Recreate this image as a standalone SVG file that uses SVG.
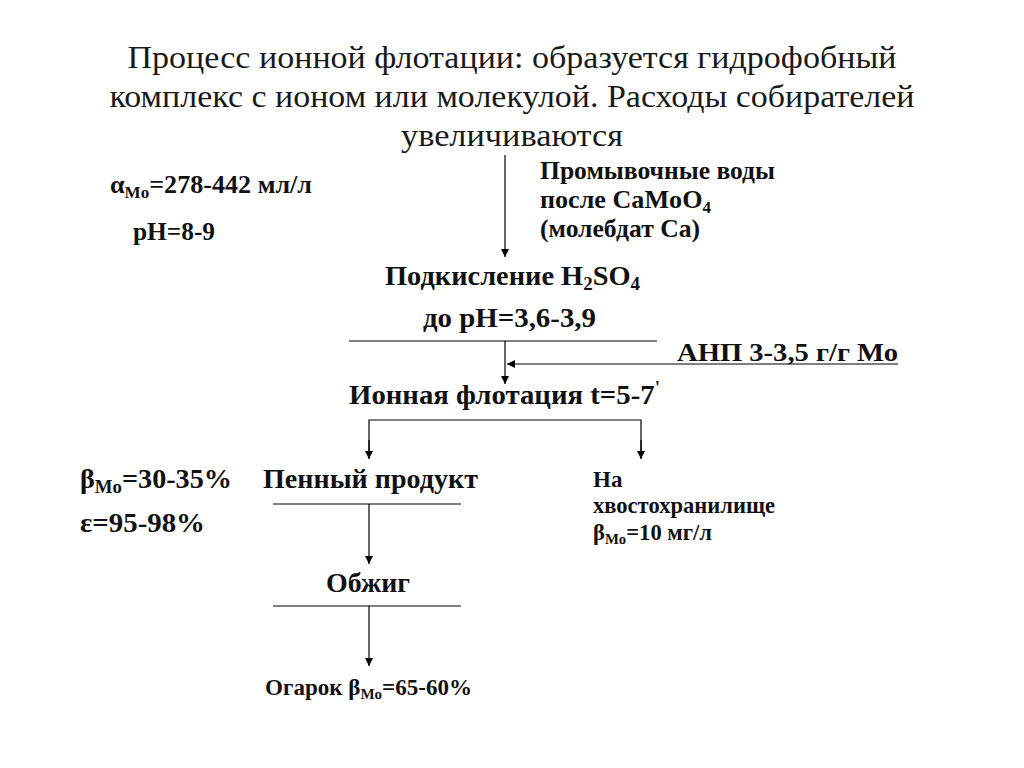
<svg xmlns="http://www.w3.org/2000/svg" width="1024" height="768" viewBox="0 0 1024 768">
<defs>
<marker id="ah" viewBox="0 0 10 10" refX="10" refY="5" markerWidth="8" markerHeight="9" markerUnits="userSpaceOnUse" orient="auto"><path d="M0,0 L10,5 L0,10 z" fill="#000"/></marker>
<style>
.t{font-family:"Liberation Serif","Times New Roman",serif;font-size:31px;fill:#1a1a1a;text-anchor:middle}
.b{font-family:"Liberation Serif","Times New Roman",serif;font-weight:bold;fill:#111}
.s28{font-size:27px}.s26{font-size:26px}.s27{font-size:27px}.s23{font-size:23px}
.ln{stroke:#000;stroke-width:1.2;fill:none}
.ar{stroke:#000;stroke-width:1.2;fill:none;marker-end:url(#ah)}
</style>
</defs>
<rect width="1024" height="768" fill="#fff"/>
<g id="title">
<text class="t" x="512" y="68" textLength="769" lengthAdjust="spacingAndGlyphs">Процесс ионной флотации: образуется гидрофобный</text>
<text class="t" x="512" y="107" textLength="805" lengthAdjust="spacingAndGlyphs">комплекс с ионом или молекулой. Расходы собирателей</text>
<text class="t" x="512" y="146" textLength="222" lengthAdjust="spacingAndGlyphs">увеличиваются</text>
</g>
<g id="params1">
<text class="b s26" x="110" y="193" textLength="202" lengthAdjust="spacingAndGlyphs">α<tspan font-size="17" dy="5">Mo</tspan><tspan dy="-5">=278-442 мл/л</tspan></text>
<text class="b s26" x="133" y="240" textLength="82" lengthAdjust="spacingAndGlyphs">pH=8-9</text>
</g>
<g id="feed">
<text class="b s26" x="540" y="179" textLength="235" lengthAdjust="spacingAndGlyphs">Промывочные воды</text>
<text class="b s26" x="540" y="208" textLength="171" lengthAdjust="spacingAndGlyphs">после CaMoO<tspan font-size="17" dy="5">4</tspan></text>
<text class="b s26" x="540" y="237" textLength="160" lengthAdjust="spacingAndGlyphs">(молебдат Ca)</text>
</g>
<g id="acid">
<text class="b s28" x="385" y="285" textLength="255" lengthAdjust="spacingAndGlyphs">Подкисление  H<tspan font-size="18" dy="5">2</tspan><tspan dy="-5">SO</tspan><tspan font-size="18" dy="5">4</tspan></text>
<text class="b s28" x="423" y="327" textLength="173" lengthAdjust="spacingAndGlyphs">до pH=3,6-3,9</text>
</g>
<g id="anp">
<text class="b" font-size="26" x="677" y="361" textLength="221" lengthAdjust="spacingAndGlyphs">АНП 3-3,5 г/г Мо</text>
</g>
<g id="flot">
<text class="b s28" x="349" y="404" textLength="311" lengthAdjust="spacingAndGlyphs">Ионная флотация t=5-7<tspan font-size="18" dy="-10">'</tspan></text>
</g>
<g id="foam">
<text class="b s28" x="263" y="488" textLength="215" lengthAdjust="spacingAndGlyphs">Пенный продукт</text>
</g>
<g id="params2">
<text class="b" font-size="27" x="80" y="488" textLength="152" lengthAdjust="spacingAndGlyphs">β<tspan font-size="18" dy="5">Mo</tspan><tspan dy="-5">=30-35%</tspan></text>
<text class="b" font-size="27" x="80" y="532" textLength="125" lengthAdjust="spacingAndGlyphs">ε=95-98%</text>
</g>
<g id="tails">
<text class="b s23" x="593" y="487">На</text>
<text class="b s23" x="593" y="513" textLength="182" lengthAdjust="spacingAndGlyphs">хвостохранилище</text>
<text class="b s23" x="593" y="540" textLength="119" lengthAdjust="spacingAndGlyphs">β<tspan font-size="15" dy="4">Mo</tspan><tspan dy="-4">=10 мг/л</tspan></text>
</g>
<g id="roast">
<text class="b s28" x="326" y="592" textLength="84" lengthAdjust="spacingAndGlyphs">Обжиг</text>
</g>
<g id="cinder">
<text class="b s23" x="265" y="695" textLength="207" lengthAdjust="spacingAndGlyphs">Огарок β<tspan font-size="15" dy="4">Mo</tspan><tspan dy="-4">=65-60%</tspan></text>
</g>
<g id="connectors">
<line class="ar" x1="505" y1="155" x2="505" y2="257"/>
<line class="ln" x1="349" y1="341" x2="657" y2="341"/>
<line class="ar" x1="505" y1="341" x2="505" y2="384"/>
<line class="ar" x1="898" y1="364" x2="507" y2="364"/>
<polyline class="ln" points="369,458 369,420 641,420 641,458"/>
<line class="ar" x1="369" y1="440" x2="369" y2="459"/>
<line class="ar" x1="641" y1="440" x2="641" y2="459"/>
<line class="ln" x1="273" y1="504" x2="461" y2="504"/>
<line class="ar" x1="369" y1="504" x2="369" y2="564"/>
<line class="ln" x1="273" y1="606" x2="461" y2="606"/>
<line class="ar" x1="369" y1="606" x2="369" y2="666"/>
</g>
</svg>
